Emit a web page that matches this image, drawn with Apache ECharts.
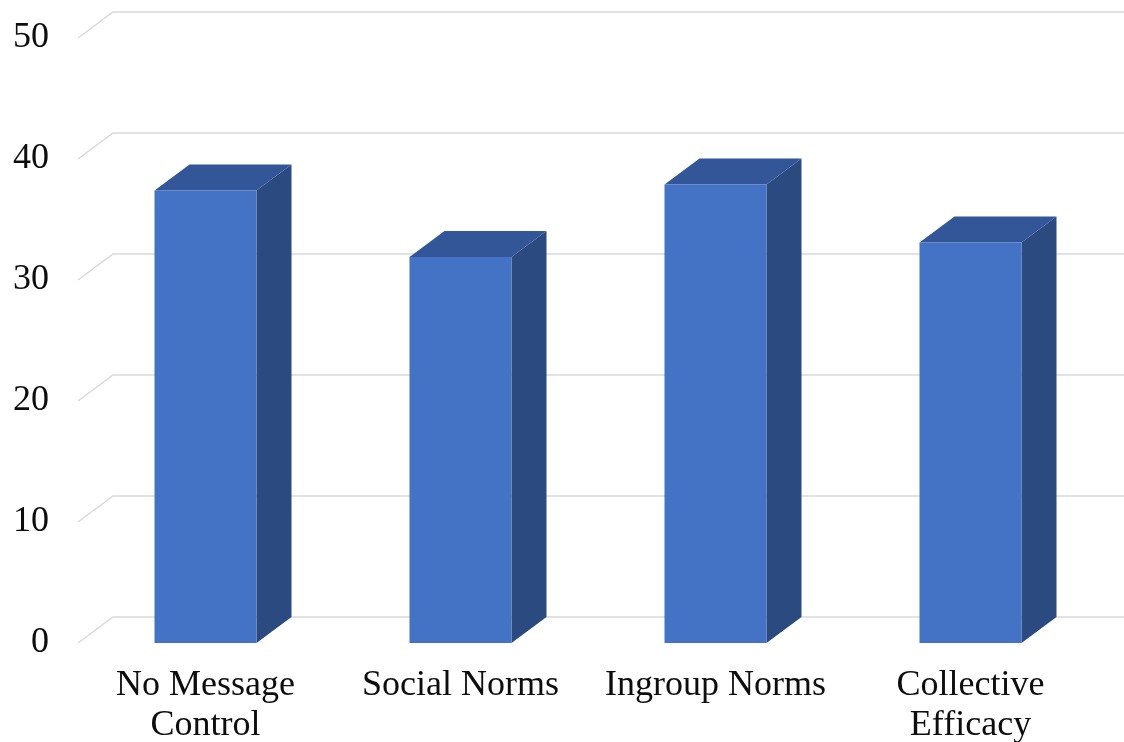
<!DOCTYPE html>
<html>
<head>
<meta charset="utf-8">
<script src="https://cdn.jsdelivr.net/npm/echarts@6/dist/echarts.min.js"></script>
<style>
  html, body { margin: 0; padding: 0; background: #fff; }
  #chart { width: 1124px; height: 742px; }
</style>
</head>
<body>
<div id="chart"></div>
<script>
// data
var categories = ['No Message\nControl', 'Social Norms', 'Ingroup Norms', 'Collective\nEfficacy'];
var values = [37.4, 31.9, 37.9, 33.1];
var yTicks = [0, 10, 20, 30, 40, 50];

// 3d depth offset in px (back wall vs front plane)
var DX = 35, DY = -26;
var FONT = '"Liberation Serif", "Times New Roman", serif';

var myChart = echarts.init(document.getElementById('chart'));

// back wall grid lines + the little diagonal bit at the left
function renderGridLine(params, api) {
  var cs = params.coordSys;
  var y = api.coord([0, api.value(1)])[1];
  var x0 = cs.x;
  return {
    type: 'polyline',
    shape: { points: [[x0, y], [x0 + DX, y + DY], [x0 + cs.width + DX, y + DY]] },
    style: { fill: null, stroke: '#d9d9d9', lineWidth: 1.5 },
    silent: true
  };
}

// one box per category: front, top, side
function renderBox(params, api) {
  var top = api.coord([api.value(0), api.value(1)]);
  var base = api.coord([api.value(0), 0]);
  var band = api.size([1, 0])[0];
  var w = band * 0.4;
  var x0 = top[0] - w / 2, x1 = top[0] + w / 2;
  var yt = top[1], yb = base[1];
  return {
    type: 'group',
    children: [
      {
        type: 'polygon',
        shape: { points: [[x1, yt], [x1 + DX, yt + DY], [x1 + DX, yb + DY], [x1, yb]] },
        style: { fill: '#2b4a80' }
      },
      {
        type: 'polygon',
        shape: { points: [[x0, yt], [x0 + DX, yt + DY], [x1 + DX, yt + DY], [x1, yt]] },
        style: { fill: '#325697' }
      },
      {
        type: 'rect',
        shape: { x: x0, y: yt, width: w, height: yb - yt },
        style: { fill: '#4472c4' }
      }
    ]
  };
}

var options = {
  animation: false,
  grid: {
    left: 78,
    right: 26,
    top: 38,
    bottom: 99,
    outerBoundsMode: 'none'
  },
  xAxis: {
    type: 'category',
    data: categories,
    axisLine: { show: false },
    axisTick: { show: false },
    axisLabel: {
      interval: 0,
      margin: 23,
      color: '#0d0d0d',
      fontSize: 36,
      fontFamily: FONT,
      lineHeight: 40
    }
  },
  yAxis: {
    type: 'value',
    min: 0,
    max: 50,
    interval: 10,
    axisLine: { show: false },
    axisTick: { show: false },
    splitLine: { show: false },
    axisLabel: {
      margin: 29,
      color: '#0d0d0d',
      fontSize: 36,
      fontFamily: FONT,
      padding: [8, 0, 0, 0]
    }
  },
  series: [
    {
      type: 'custom',
      renderItem: renderGridLine,
      data: yTicks.map(function (t) { return [0, t]; }),
      z: 1,
      silent: true
    },
    {
      type: 'custom',
      renderItem: renderBox,
      data: values.map(function (v, i) { return [i, v]; }),
      z: 2
    }
  ]
};

myChart.setOption(options, true);
</script>
</body>
</html>
